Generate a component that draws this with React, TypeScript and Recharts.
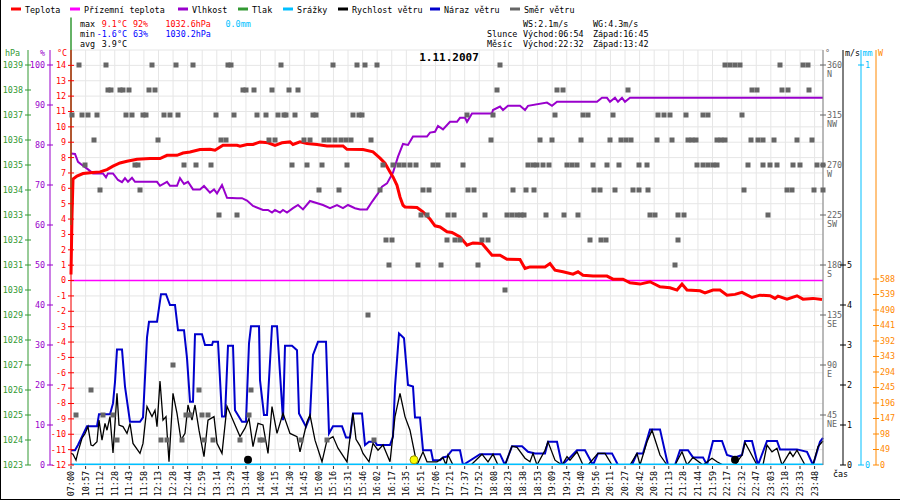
import {
  ComposedChart,
  Line,
  Scatter,
  XAxis,
  YAxis,
  CartesianGrid,
  ReferenceLine,
} from "recharts";

// x = sample number (about one per minute), 14.58 samples between two labels
const STEP = 14.58;

const timeLabels = [
  "07:00", "10:57", "11:12", "11:28", "11:43", "11:58", "12:13", "12:28", "12:44", "12:59",
  "13:14", "13:29", "13:44", "14:00", "14:15", "14:30", "14:45", "15:00", "15:16", "15:31",
  "15:46", "16:02", "16:17", "16:35", "16:51", "17:06", "17:21", "17:37", "17:52", "18:08",
  "18:23", "18:38", "18:53", "19:09", "19:24", "19:40", "19:56", "20:11", "20:27", "20:42",
  "20:58", "21:13", "21:28", "21:44", "21:59", "22:17", "22:32", "22:47", "23:03", "23:18",
  "23:33", "23:48",
];

// [sample, °C]
const temperature = [
  [0, 0.4], [1, 4.2], [2, 6.6], [6, 6.8], [12, 6.96], [22, 7.03], [29, 7.07], [36, 7.22],
  [42, 7.44], [49, 7.65], [56, 7.76], [66, 7.89], [79, 7.94], [89, 7.94], [96, 8.15],
  [106, 8.15], [112, 8.3], [119, 8.37], [129, 8.52], [139, 8.54], [144, 8.48], [152, 8.8],
  [166, 8.8], [169, 8.74], [176, 8.85], [182, 8.85], [189, 9.02], [197, 8.96], [204, 8.8],
  [211, 8.96], [219, 9.02], [222, 8.85], [229, 9.02], [236, 8.91], [246, 8.85], [256, 8.76],
  [272, 8.76], [276, 8.54], [292, 8.52], [302, 8.37], [309, 7.96], [314, 7.63], [319, 7.07],
  [322, 6.74], [326, 6.2], [329, 5.44], [332, 4.9], [334, 4.79], [346, 4.75], [352, 4.47],
  [359, 4.0], [364, 3.56], [369, 3.49], [376, 3.17], [381, 3.13], [389, 2.84], [396, 2.3],
  [402, 2.45], [411, 2.41], [421, 1.65], [429, 1.65], [436, 1.39], [449, 1.37], [454, 0.79],
  [459, 0.89], [474, 0.89], [479, 1.11], [484, 0.68], [492, 0.57], [502, 0.42], [507, 0.57],
  [512, 0.35], [522, 0.29], [536, 0.29], [542, 0.09], [552, 0.09], [559, -0.15], [569, -0.23],
  [579, -0.08], [589, -0.41], [599, -0.47], [606, -0.62], [611, -0.23], [616, -0.62],
  [629, -0.67], [634, -0.8], [642, -0.62], [649, -0.62], [656, -0.95], [664, -0.9],
  [671, -0.77], [681, -1.1], [689, -0.95], [699, -0.99], [704, -1.16], [707, -1.01],
  [716, -1.21], [726, -0.99], [732, -1.21], [742, -1.16], [751, -1.23],
];

// [sample, %]
const humidity = [
  [0, 77.9], [4, 77.75], [7, 75.8], [12, 74.8], [17, 73.9], [22, 72.9], [32, 72.9], [35, 71.9],
  [37, 72.9], [42, 72.9], [47, 71.25], [51, 70.7], [54, 71.7], [57, 70.8], [61, 71.8],
  [64, 70.8], [86, 70.8], [89, 69.8], [96, 70.8], [99, 69.8], [106, 69.8], [109, 71.7],
  [113, 70.25], [117, 70.8], [122, 68.9], [129, 68.9], [133, 69.75], [139, 68.1], [143, 68.9],
  [146, 67.9], [151, 70.0], [156, 66.8], [166, 66.7], [171, 66.7], [176, 66.1], [182, 64.75],
  [192, 63.75], [197, 63.75], [201, 63.1], [204, 63.75], [209, 63.1], [212, 63.75], [216, 63.1],
  [222, 64.2], [227, 65.0], [232, 63.9], [239, 66.0], [252, 65.0], [259, 64.2], [266, 65.0],
  [272, 64.2], [277, 65.0], [284, 64.2], [289, 63.9], [296, 63.9], [301, 65.8], [307, 67.9],
  [311, 69.6], [316, 70.4], [322, 73.1], [327, 77.1], [332, 80.25], [337, 80.0], [342, 82.1],
  [356, 82.1], [359, 83.1], [364, 83.3], [367, 84.75], [372, 83.9], [379, 85.8], [386, 85.8],
  [389, 86.8], [394, 86.8], [396, 85.8], [401, 87.9], [421, 87.9], [422, 88.75], [429, 89.6],
  [432, 88.75], [437, 89.8], [449, 89.8], [454, 88.75], [457, 89.8], [476, 90.6], [481, 89.8],
  [486, 90.8], [526, 90.8], [531, 91.8], [536, 91.8], [539, 90.8], [544, 91.8], [547, 90.8],
  [551, 91.8], [554, 90.8], [559, 91.8], [752, 91.8],
];

// [sample, m/s]
const windSpeed = [
  [0, 0.29], [2, 0.27], [5, 0.12], [7, 0.33], [11, 0.67], [14, 0.78], [17, 0.96], [20, 0.5],
  [22, 0.48], [26, 0.58], [28, 1.12], [31, 0.62], [34, 1.04], [36, 0.87], [39, 1.21], [42, 0.3],
  [46, 1.79], [48, 1.0], [52, 0.96], [56, 0.79], [59, 1.04], [62, 0.54], [69, 0.29], [72, 0.54],
  [76, 1.46], [81, 1.21], [84, 1.37], [86, 0.96], [89, 2.1], [92, 1.12], [95, 1.21], [98, 0.08],
  [102, 1.79], [106, 1.29], [110, 0.62], [114, 0.79], [117, 1.5], [121, 1.12], [124, 1.5],
  [128, 0.87], [133, 0.21], [137, 1.12], [143, 1.21], [146, 0.54], [151, 0.29], [156, 1.47],
  [162, 1.12], [169, 0.71], [174, 0.92], [178, 1.17], [182, 0.46], [187, 1.04], [192, 1.0],
  [197, 0.29], [201, 1.46], [206, 0.79], [212, 1.29], [219, 0.79], [226, 0.71], [229, 0.33],
  [236, 1.08], [239, 1.25], [244, 0.62], [251, 0.08], [256, 0.62], [262, 0.71], [267, 0.42],
  [276, 0.08], [282, 1.29], [285, 0.64], [289, 0.48], [292, 0.29], [298, 0.08], [302, 0.54],
  [307, 0.37], [312, 0.5], [319, 0.08], [324, 1.21], [329, 1.79], [334, 1.21], [339, 0.87],
  [346, 0], [352, 0.33], [356, 0.08], [366, 0.08], [372, 0.19], [375, 0], [377, 0.25], [382, 0],
  [400, 0], [411, 0.27], [417, 0.08], [422, 0.27], [427, 0], [434, 0], [441, 0.47], [446, 0.44],
  [454, 0.17], [459, 0.08], [462, 0.29], [466, 0], [474, 0.37], [477, 0.58], [484, 0.12],
  [491, 0], [496, 0.21], [499, 0.12], [506, 0.33], [512, 0], [517, 0], [527, 0.29], [534, 0.29],
  [541, 0], [559, 0], [566, 0.29], [569, 0], [576, 0.58], [581, 0.87], [589, 0.25], [596, 0],
  [604, 0], [611, 0.33], [616, 0], [622, 0.19], [632, 0], [641, 0.17], [646, 0.08], [652, 0],
  [664, 0], [671, 0.25], [674, 0.56], [679, 0.33], [686, 0], [692, 0], [696, 0.5], [701, 0.33],
  [706, 0.42], [711, 0], [719, 0.33], [722, 0.21], [726, 0.37], [734, 0], [742, 0], [747, 0.46],
  [752, 0.6],
];

// [sample, m/s]
const windGust = [
  [0, 0.37], [4, 0.37], [7, 0.5], [16, 0.97], [26, 0.97], [28, 1.27], [39, 1.27], [42, 1.54],
  [44, 2.08], [46, 2.89], [51, 2.89], [54, 1.96], [59, 1.08], [69, 1.08], [72, 1.19], [76, 3.19],
  [78, 3.58], [86, 3.58], [90, 4.27], [95, 4.27], [99, 4.0], [104, 4.0], [107, 3.37], [113, 3.37],
  [116, 2.67], [119, 1.58], [122, 1.58], [124, 3.27], [131, 3.27], [134, 3.0], [141, 3.0],
  [142, 3.08], [147, 3.08], [151, 1.21], [154, 1.21], [157, 2.98], [162, 2.98], [164, 1.37],
  [171, 1.08], [175, 1.08], [178, 3.04], [180, 3.47], [188, 3.47], [189, 2.12], [193, 1.25],
  [196, 1.25], [201, 3.47], [206, 3.47], [209, 2.29], [212, 1.12], [214, 2.98], [221, 2.98],
  [226, 2.87], [228, 1.29], [235, 0.96], [239, 1.21], [242, 2.75], [247, 3.08], [255, 3.08],
  [258, 0.79], [262, 0.97], [271, 0.97], [275, 0.69], [279, 0.69], [282, 1.29], [291, 1.29],
  [294, 0.5], [298, 0.58], [304, 0.58], [306, 0.5], [319, 0.5], [322, 0.71], [324, 1.96],
  [328, 3.29], [333, 3.17], [337, 2.0], [342, 1.96], [344, 1.19], [349, 1.19], [352, 0.37],
  [360, 0.37], [362, 0.12], [369, 0.12], [372, 0.19], [376, 0.21], [381, 0.37], [389, 0.37],
  [392, 0], [409, 0.27], [429, 0.27], [434, 0], [441, 0.47], [451, 0.47], [457, 0.33],
  [464, 0.29], [474, 0.29], [477, 0.58], [486, 0.58], [491, 0], [499, 0.19], [506, 0.37],
  [514, 0.37], [522, 0], [527, 0.29], [541, 0.29], [547, 0], [561, 0], [566, 0.29], [572, 0.29],
  [579, 0.89], [589, 0.89], [597, 0], [604, 0], [609, 0.37], [617, 0.37], [622, 0.19],
  [632, 0.19], [636, 0], [642, 0.6], [651, 0.6], [656, 0.25], [664, 0.19], [671, 0.25],
  [674, 0.6], [681, 0.6], [687, 0], [696, 0.6], [706, 0.6], [709, 0.39], [726, 0.39],
  [736, 0.33], [742, 0], [749, 0.58], [752, 0.68],
];

// wind direction samples, grouped by sector (degrees) -> sample numbers
const windDirection = [
  { deg: 360, at: [8, 35, 81, 105, 122, 157, 160, 210, 262, 286, 294, 306, 429, 654, 659, 664, 669, 709, 732, 737] },
  { deg: 337.5, at: [37, 40, 49, 52, 58, 78, 84, 172, 175, 183, 201, 218, 227, 426, 486, 492, 557, 681, 686, 711, 717, 738] },
  { deg: 315, at: [1, 11, 17, 26, 55, 61, 72, 75, 93, 99, 107, 145, 163, 186, 195, 207, 213, 215, 224, 242, 245, 282, 288, 291, 396, 422, 484, 512, 517, 542, 587, 593, 599, 615, 632, 637, 671] },
  { deg: 292.5, at: [23, 87, 150, 155, 198, 204, 233, 239, 253, 258, 264, 270, 275, 280, 300, 420, 469, 481, 510, 539, 550, 555, 560, 586, 601, 617, 621, 625, 646, 650, 654, 680, 687, 692, 703, 726, 741] },
  { deg: 270, at: [14, 64, 67, 113, 125, 140, 221, 236, 251, 276, 312, 322, 328, 333, 339, 345, 362, 367, 392, 457, 462, 466, 472, 478, 496, 501, 506, 522, 536, 548, 568, 576, 626, 632, 637, 642, 646, 677, 692, 699, 706, 722, 729, 746, 752] },
  { deg: 247.5, at: [29, 69, 248, 268, 309, 352, 358, 397, 403, 442, 455, 463, 523, 529, 544, 562, 568, 577, 673, 716, 721, 743, 752] },
  { deg: 225, at: [148, 166, 350, 356, 377, 383, 414, 436, 441, 446, 450, 453, 475, 493, 507, 579, 584, 607, 613, 697] },
  { deg: 202.5, at: [315, 321, 376, 384, 389, 411, 417, 519, 530, 535, 607] },
  { deg: 180, at: [318, 347, 370, 407, 604] },
  { deg: 157.5, at: [434] },
  { deg: 135, at: [297] },
  { deg: 90, at: [102] },
  { deg: 67.5, at: [20, 128, 180] },
  { deg: 45, at: [5, 32, 42, 115, 119, 131, 137, 178] },
  { deg: 22.5, at: [46, 90, 96, 111, 133, 142, 169, 189, 192, 230, 256, 303] },
];

const groundTemp = [[0, 0], [752, 0]];
const rainfall = [[0, 0], [752, 0]];
const pressureSpike = [1032.6, 1040.9];

// moon set / sunset / moon rise, sample numbers
const astroMarks = [
  { at: 177, body: "moon" },
  { at: 343, body: "sun" },
  { at: 664, body: "moon" },
];

const tempTicks = [-12, -11, -10, -9, -8, -7, -6, -5, -4, -3, -2, -1, 0, 1, 2, 3, 4, 5, 6, 7, 8, 9, 10, 11, 12, 13, 14, 15];
const humidityTicks = [0, 10, 20, 30, 40, 50, 60, 70, 80, 90, 100];
const pressureTicks = [1023, 1024, 1025, 1026, 1027, 1028, 1029, 1030, 1031, 1032, 1033, 1034, 1035, 1036, 1037, 1038, 1039];
const directionTicks = [45, 90, 135, 180, 225, 270, 315, 360];
const compass = ["NE", "E", "SE", "S", "SW", "W", "NW", "N"];
const speedTicks = [0, 1, 2, 3, 4, 5];
const rainTicks = [0, 1];
const radiationTicks = [0, 49, 98, 147, 196, 245, 294, 343, 392, 441, 490, 539, 588];

const legendItems = [
  { label: "Teplota", color: "#ff0000" },
  { label: "Přízemní teplota", color: "#ff00ff" },
  { label: "Vlhkost", color: "#9900cc" },
  { label: "Tlak", color: "#339933" },
  { label: "Srážky", color: "#00bfff" },
  { label: "Rychlost větru", color: "#000000" },
  { label: "Náraz větru", color: "#0000cc" },
  { label: "Směr větru", color: "#666666" },
];

const MONO = "'DejaVu Sans Mono', monospace";
const FS = 8.4;
const RED = "#ff0000";
const MAGENTA = "#ff00ff";
const PURPLE = "#9900cc";
const GREEN = "#339933";
const CYAN = "#00bfff";
const BLUE = "#0000cc";
const GRAY = "#666666";
const ORANGE = "#ff8800";

// axis ids sort in the order the axes should stack out from the plot
const T = "l1_temp";
const H = "l2_hum";
const P = "l3_press";
const DIR = "r1_dir";
const MS = "r2_speed";
const MM = "r3_rain";
const W = "r4_sun";

const pts = (arr: number[][], key: string) => arr.map(([x, v]) => ({ x, [key]: v }));

const tempData = pts(temperature, "t");
const humData = pts(humidity, "h");
const windData = pts(windSpeed, "ms");
const gustData = pts(windGust, "ms");
const groundData = pts(groundTemp, "t");
const rainData = pts(rainfall, "mm");
const dirData = windDirection.flatMap((r) => r.at.map((x) => ({ x, deg: r.deg })));
const astroData = astroMarks.map((m) => ({ x: m.at, ms: 0.13, body: m.body }));

const sideTick =
  (color: string, side: "left" | "right", fmt: (v: number) => string | null, sub?: (v: number) => string) =>
  (props: any) => {
    const { x, y, payload } = props;
    const label = fmt(payload.value);
    if (label === null) return <g />;
    const left = side === "left";
    return (
      <g>
        <line x1={x - 3} x2={x + 3} y1={y} y2={y} stroke={color} />
        <text
          x={left ? x - 5 : x + 4}
          y={y}
          dy="0.35em"
          textAnchor={left ? "end" : "start"}
          fill={color}
          fontSize={FS}
          fontFamily={MONO}
        >
          {label}
        </text>
        {sub && (
          <text x={x + 4} y={y + 9} dy="0.35em" fill={color} fontSize={FS} fontFamily={MONO}>
            {sub(payload.value)}
          </text>
        )}
      </g>
    );
  };

const TimeTick = (props: any) => {
  const { x, y, payload } = props;
  const label = timeLabels[Math.round(payload.value / STEP)];
  return (
    <g>
      <line x1={x} x2={x} y1={y + 1} y2={y + 4} stroke="#333" />
      <text
        transform={`translate(${x + 3},${y + 6}) rotate(-90)`}
        textAnchor="end"
        fontSize={FS}
        fontFamily={MONO}
        fill="#000"
      >
        {label}
      </text>
    </g>
  );
};

const DirSquare = (p: any) => <rect x={p.cx - 2.5} y={p.cy - 2.5} width={5} height={5} fill={GRAY} />;

const AstroDot = (p: any) =>
  p.payload.body === "sun" ? (
    <circle cx={p.cx} cy={p.cy} r={4} fill="#ffff00" stroke="#999900" strokeWidth={1} />
  ) : (
    <circle cx={p.cx} cy={p.cy} r={4} fill="#000" />
  );

const Txt = ({ x, y, c = "#000", children, anchor = "start", bold = false, size = FS }: any) => (
  <text
    x={x}
    y={y}
    fill={c}
    fontSize={size}
    fontFamily={MONO}
    textAnchor={anchor}
    fontWeight={bold ? "bold" : "normal"}
  >
    {children}
  </text>
);

const legendX = [11, 70, 178, 238, 283, 338, 430, 510];

const Overlay = () => (
  <svg width={900} height={500} style={{ position: "absolute", left: 0, top: 0, pointerEvents: "none" }}>
    <line x1={0.5} y1={0} x2={0.5} y2={500} stroke="#000" />
    <line x1={0} y1={499.5} x2={900} y2={499.5} stroke="#000" />
    {legendItems.map((it, i) => (
      <g key={it.label}>
        <line x1={legendX[i]} x2={legendX[i] + 10} y1={9} y2={9} stroke={it.color} strokeWidth={3} />
        <Txt x={legendX[i] + 14} y={12.5}>{it.label}</Txt>
      </g>
    ))}
    <Txt x={80} y={27}>max</Txt>
    <Txt x={127} y={27} c={RED} anchor="end">9.1°C</Txt>
    <Txt x={133} y={27} c={RED}>92%</Txt>
    <Txt x={165.5} y={27} c={RED}>1032.6hPa</Txt>
    <Txt x={225.5} y={27} c={CYAN}>0.0mm</Txt>
    <Txt x={80} y={37}>min</Txt>
    <Txt x={127} y={37} c="#0000ff" anchor="end">-1.6°C</Txt>
    <Txt x={133} y={37} c="#0000ff">63%</Txt>
    <Txt x={165.5} y={37} c="#0000ff">1030.2hPa</Txt>
    <Txt x={80} y={47}>avg</Txt>
    <Txt x={127} y={47} anchor="end">3.9°C</Txt>
    <Txt x={523} y={27}>WS:2.1m/s</Txt>
    <Txt x={593} y={27}>WG:4.3m/s</Txt>
    <Txt x={487} y={37}>Slunce</Txt>
    <Txt x={523} y={37}>Východ:06:54</Txt>
    <Txt x={593} y={37}>Západ:16:45</Txt>
    <Txt x={487} y={47}>Měsíc</Txt>
    <Txt x={523} y={47}>Východ:22:32</Txt>
    <Txt x={593} y={47}>Západ:13:42</Txt>
    <Txt x={449} y={60.5} anchor="middle" bold size={11}>1.11.2007</Txt>
    <Txt x={5} y={56} c={GREEN}>hPa</Txt>
    <Txt x={40} y={56} c={PURPLE}>%</Txt>
    <Txt x={57} y={56} c={RED}>°C</Txt>
    <Txt x={825} y={56} c={GRAY}>°</Txt>
    <Txt x={845} y={56}>m/s</Txt>
    <Txt x={862.5} y={56} c={CYAN}>mm</Txt>
    <Txt x={878} y={56} c={ORANGE}>W</Txt>
    <Txt x={833} y={477}>čas</Txt>
  </svg>
);

const axisCommon = {
  interval: 0 as const,
  tickLine: false,
  tickSize: 0,
  tickMargin: 0,
  allowDataOverflow: true,
  type: "number" as const,
};

const App = () => {
  return (
    <div style={{ position: "relative", width: 900, height: 500, background: "#fff" }}>
      <style>{"body{margin:0}"}</style>
      <ComposedChart width={900} height={500} margin={{ top: 50, right: 0, bottom: 0, left: 0 }}>
        <CartesianGrid yAxisId={T} stroke="#e6e6e6" />
        <XAxis
          dataKey="x"
          type="number"
          domain={[0, 752]}
          ticks={timeLabels.map((_, i) => i * STEP)}
          interval={0}
          height={35}
          axisLine={false}
          tickLine={false}
          tickSize={0}
          tickMargin={0}
          tick={<TimeTick />}
        />
        <YAxis
          {...axisCommon}
          yAxisId={T}
          orientation="left"
          width={21}
          domain={[-12, 15]}
          ticks={tempTicks}
          axisLine={{ stroke: RED }}
          tick={sideTick(RED, "left", (v) => (v === 15 ? null : String(v)))}
        />
        <YAxis
          {...axisCommon}
          yAxisId={H}
          orientation="left"
          width={22}
          domain={[0, 103.75]}
          ticks={humidityTicks}
          axisLine={{ stroke: PURPLE }}
          tick={sideTick(PURPLE, "left", (v) => String(v))}
        />
        <YAxis
          {...axisCommon}
          yAxisId={P}
          orientation="left"
          width={28}
          domain={[1023, 1039.6]}
          ticks={pressureTicks}
          axisLine={{ stroke: GREEN }}
          tick={sideTick(GREEN, "left", (v) => String(v))}
        />
        <YAxis
          {...axisCommon}
          yAxisId={DIR}
          orientation="right"
          width={20}
          domain={[0, 373.5]}
          ticks={directionTicks}
          axisLine={{ stroke: "#808080" }}
          tick={sideTick(GRAY, "right", (v) => String(v), (v) => compass[directionTicks.indexOf(v)])}
        />
        <YAxis
          {...axisCommon}
          yAxisId={MS}
          orientation="right"
          width={18}
          domain={[0, 10.375]}
          ticks={speedTicks}
          axisLine={{ stroke: "#000" }}
          tick={sideTick("#000", "right", (v) => String(v))}
        />
        <YAxis
          {...axisCommon}
          yAxisId={MM}
          orientation="right"
          width={15}
          domain={[0, 1.0375]}
          ticks={rainTicks}
          axisLine={{ stroke: CYAN }}
          tick={sideTick(CYAN, "right", (v) => String(v))}
        />
        <YAxis
          {...axisCommon}
          yAxisId={W}
          orientation="right"
          width={24}
          domain={[0, 1312]}
          ticks={radiationTicks}
          axisLine={{ stroke: ORANGE }}
          tick={sideTick(ORANGE, "right", (v) => String(v))}
        />
        <Scatter yAxisId={DIR} data={dirData} dataKey="deg" shape={DirSquare} isAnimationActive={false} />
        <Line
          yAxisId={T}
          data={groundData}
          dataKey="t"
          stroke={MAGENTA}
          strokeWidth={1.5}
          dot={false}
          isAnimationActive={false}
        />
        <Line
          yAxisId={H}
          data={humData}
          dataKey="h"
          type="linear"
          stroke={PURPLE}
          strokeWidth={2}
          dot={false}
          isAnimationActive={false}
        />
        <Line
          yAxisId={T}
          data={tempData}
          dataKey="t"
          type="linear"
          stroke={RED}
          strokeWidth={3}
          dot={false}
          isAnimationActive={false}
        />
        <Line
          yAxisId={MS}
          data={gustData}
          dataKey="ms"
          type="linear"
          stroke={BLUE}
          strokeWidth={2}
          dot={false}
          isAnimationActive={false}
        />
        <Line
          yAxisId={MS}
          data={windData}
          dataKey="ms"
          type="linear"
          stroke="#000"
          strokeWidth={1.3}
          dot={false}
          isAnimationActive={false}
        />
        <Line
          yAxisId={MM}
          data={rainData}
          dataKey="mm"
          stroke={CYAN}
          strokeWidth={3}
          dot={false}
          isAnimationActive={false}
        />
        <ReferenceLine
          yAxisId={P}
          segment={[
            { x: 0, y: pressureSpike[0] },
            { x: 0, y: pressureSpike[1] },
          ]}
          stroke={GREEN}
          strokeWidth={1.5}
          ifOverflow="visible"
        />
        <Scatter yAxisId={MS} data={astroData} dataKey="ms" shape={AstroDot} isAnimationActive={false} />
      </ComposedChart>
      <Overlay />
    </div>
  );
};

export default App;
